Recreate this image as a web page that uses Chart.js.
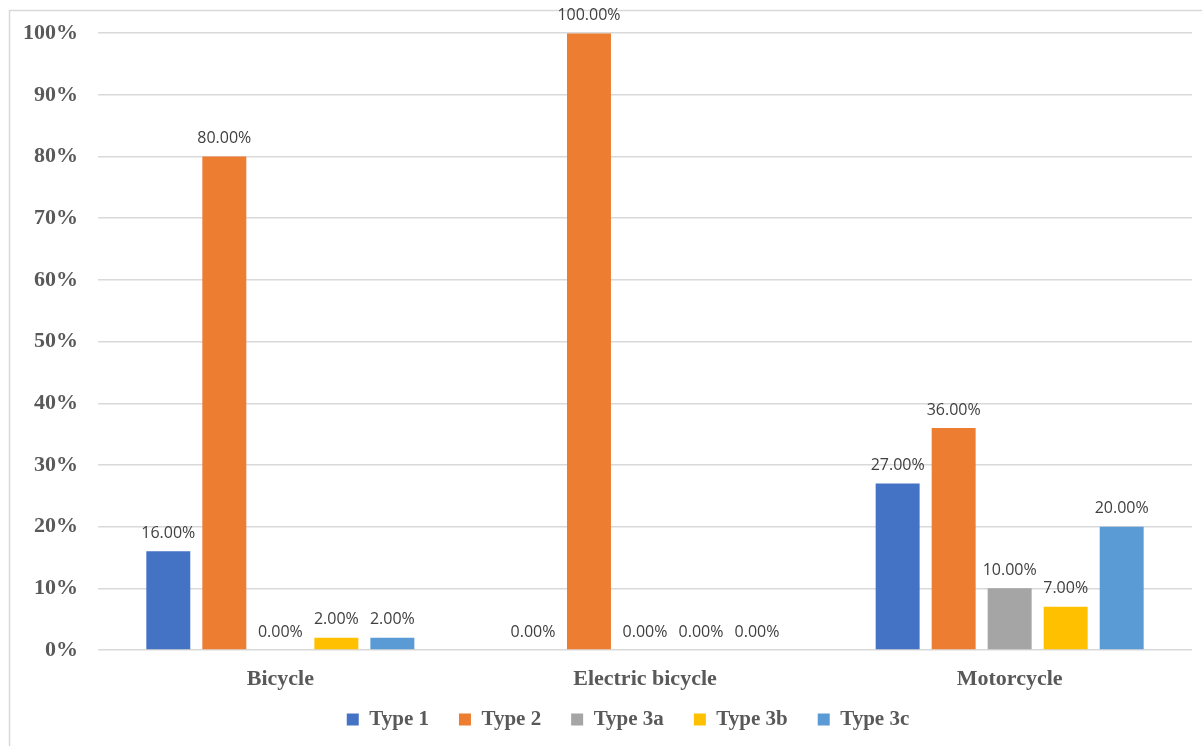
<!doctype html>
<html>

<head>
	<title>Vehicle Types</title>
	<script src="https://cdn.jsdelivr.net/npm/chart.js@4.4.1/dist/chart.umd.min.js"></script>
	<style>
	html, body {
		margin: 0;
		padding: 0;
		background: #fff;
	}
	.chart-container {
		width: 1202px;
		height: 746px;
	}
	</style>
</head>

<body>
	<div class="chart-container">
		<canvas id="chart"></canvas>
	</div>
	<script>
		var categories = ['Bicycle', 'Electric bicycle', 'Motorcycle'];
		var seriesNames = ['Type 1', 'Type 2', 'Type 3a', 'Type 3b', 'Type 3c'];
		var type1 = [16, 0, 27];
		var type2 = [80, 100, 36];
		var type3a = [0, 0, 10];
		var type3b = [2, 0, 7];
		var type3c = [2, 0, 20];
		var seriesColors = ['#4472C4', '#ED7D31', '#A5A5A5', '#FFC000', '#5B9BD5'];

		var serif = '"Liberation Serif", "Times New Roman", serif';

		// white background + light frame around the chart
		var framePlugin = {
			id: 'frame',
			beforeDraw: function(chart) {
				var ctx = chart.ctx;
				ctx.save();
				ctx.fillStyle = '#ffffff';
				ctx.fillRect(0, 0, chart.width, chart.height);
				ctx.strokeStyle = '#d9d9d9';
				ctx.lineWidth = 1.5;
				ctx.strokeRect(9.5, 10.5, 1400, 900);
				ctx.restore();
			},
			afterLayout: function(chart) {
				// legend sits a bit right of the canvas centre in the original
				chart.legend.left += 32;
				chart.legend.right += 32;
			}
		};

		// value labels above each bar
		var valueLabels = {
			id: 'valueLabels',
			afterDatasetsDraw: function(chart) {
				var ctx = chart.ctx;
				ctx.save();
				ctx.font = '16px "Open Sans", sans-serif';
				ctx.fillStyle = '#404040';
				ctx.textAlign = 'center';
				ctx.textBaseline = 'middle';
				chart.data.datasets.forEach(function(ds, i) {
					chart.getDatasetMeta(i).data.forEach(function(bar, j) {
						ctx.fillText(ds.data[j].toFixed(2) + '%', bar.x, bar.y - 18);
					});
				});
				ctx.restore();
			}
		};

		var allSeries = [type1, type2, type3a, type3b, type3c];
		var datasets = allSeries.map(function(values, i) {
			return {
				label: seriesNames[i],
				data: values,
				backgroundColor: seriesColors[i],
				borderWidth: 0,
				categoryPercentage: 0.768,
				barPercentage: 0.785
			};
		});

		new Chart(document.getElementById('chart'), {
			type: 'bar',
			data: {
				labels: categories,
				datasets: datasets
			},
			options: {
				responsive: true,
				maintainAspectRatio: false,
				animation: false,
				layout: {
					padding: { top: 33, right: 10, bottom: 6, left: 0 }
				},
				plugins: {
					tooltip: { enabled: false },
					legend: {
						position: 'bottom',
						labels: {
							boxWidth: 12,
							boxHeight: 12,
							padding: 30,
							color: '#595959',
							font: { family: serif, size: 21, weight: 'bold' }
						}
					}
				},
				scales: {
					x: {
						grid: { display: false },
						border: { display: false },
						ticks: {
							padding: 8,
							color: '#595959',
							font: { family: serif, size: 22, weight: 'bold' }
						},
						afterFit: function(scale) {
							scale.height = 29;
							// let the category labels run past the short axis box
							scale._computeLabelArea = function() {};
						}
					},
					y: {
						min: 0,
						max: 100,
						grid: { color: '#d9d9d9', lineWidth: 1.5, drawTicks: false },
						border: { display: false },
						ticks: {
							stepSize: 10,
							padding: 20,
							color: '#595959',
							font: { family: serif, size: 22, weight: 'bold' },
							callback: function(v) { return v + '%'; }
						},
						afterFit: function(scale) {
							scale.width = 98;
						}
					}
				}
			},
			plugins: [framePlugin, valueLabels]
		});
	</script>
</body>

</html>
